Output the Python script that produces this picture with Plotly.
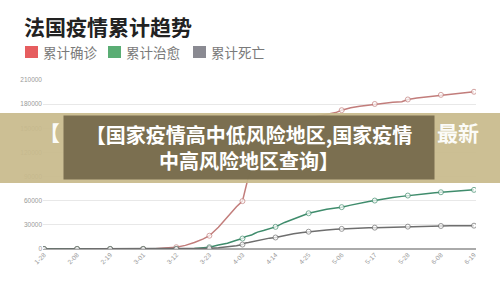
import plotly.graph_objects as go

# ---------------- data ----------------
dates = ["2020-01-28","2020-02-08","2020-02-19","2020-03-01","2020-03-05","2020-03-08",
         "2020-03-12","2020-03-15","2020-03-18","2020-03-21","2020-03-23","2020-03-26",
         "2020-03-29","2020-04-01","2020-04-03","2020-04-04","2020-04-05","2020-04-06",
         "2020-04-07","2020-04-08","2020-04-10","2020-04-12","2020-04-14","2020-04-17",
         "2020-04-20","2020-04-23","2020-04-25","2020-04-28","2020-05-01","2020-05-04",
         "2020-05-06","2020-05-09","2020-05-12","2020-05-15","2020-05-17","2020-05-20",
         "2020-05-23","2020-05-26","2020-05-28","2020-05-31","2020-06-03","2020-06-06",
         "2020-06-08","2020-06-11","2020-06-14","2020-06-17","2020-06-19"]

confirmed = [4, 11, 12, 130, 423, 1126, 2200, 4500, 8000, 12500, 16500, 27000,
             40000, 52500, 59500, 75000, 90000, 98000, 109000, 113000, 124800, 132600,
             143000, 148500, 154700, 158000, 161500, 165000, 167300, 169500, 172500,
             175500, 177500, 179000, 180200, 181500, 182300, 182900, 185800, 187600,
             188900, 190300, 191500, 192600, 193700, 194800, 195400]

recovered = [0, 0, 0, 12, 12, 12, 12, 12, 600, 1500, 2200, 4900,
             7200, 10900, 13000, 15400, 16200, 17300, 19300, 21000, 23000, 25500,
             27500, 33000, 37500, 42000, 44400, 47000, 49500, 51000, 52000,
             54500, 57000, 59000, 60200, 62300, 63900, 65400, 66400, 67700,
             68800, 69800, 70500, 71300, 72200, 73000, 73500]

deaths = [0, 0, 1, 2, 7, 19, 61, 127, 264, 560, 860, 1700,
          2600, 4000, 5500, 7500, 8100, 8900, 10300, 10900, 12200, 13500,
          14300, 17000, 19000, 20500, 21500, 22700, 23700, 24500, 25000,
          25600, 26000, 26300, 26500, 26900, 27300, 27600, 27800, 28100,
          28300, 28500, 28600, 28750, 28850, 28950, 29000]

tick_dates = ["2020-01-28","2020-02-08","2020-02-19","2020-03-01","2020-03-12","2020-03-23",
              "2020-04-03","2020-04-14","2020-04-25","2020-05-06","2020-05-17","2020-05-28",
              "2020-06-08","2020-06-19"]
tick_labels = ["1-28","2-08","2-19","3-01","3-12","3-23","4-03","4-14","4-25","5-06",
               "5-17","5-28","6-08","6-19"]
y_ticks = [0, 30000, 60000, 90000, 120000, 150000, 180000, 210000]

series_names = ["累计确诊", "累计治愈", "累计死亡"]
line_colors = ["#c27d7b", "#3f8c6c", "#6e6e6e"]
legend_colors = ["#e65d5f", "#5aad74", "#8a8a92"]

title_text = "法国疫情累计趋势"
banner_text = "<b>【国家疫情高中低风险地区,国家疫情<br>中高风险地区查询】</b>"
bg_left = "<b>【</b>"
bg_right = "<b>最新</b>"

# ---------------- layout geometry ----------------
W, H = 500, 296
L, R, T, B = 43, 24, 80, 47
PW, PH = W - L - R, H - T - B


def px(x):
    return (x - L) / PW


def py(y):
    return (H - B - y) / PH


marker_sizes = [5 if d in tick_dates else 0 for d in dates]

fig = go.Figure()
for name, vals, col in zip(series_names, [confirmed, recovered, deaths], line_colors):
    fig.add_trace(go.Scatter(
        x=dates, y=vals, name=name, mode="lines+markers",
        line=dict(color=col, width=1.5),
        marker=dict(size=marker_sizes, color="white", line=dict(color=col, width=1)),
        showlegend=False,
    ))

font_cjk = "Noto Sans CJK SC, Noto Sans, sans-serif"

shapes = []
annotations = []

# title
annotations.append(dict(text="<b>" + title_text + "</b>", xref="paper", yref="paper",
                        x=px(22), y=py(26), xanchor="left", yanchor="middle",
                        showarrow=False, font=dict(size=21, color="#222222", family=font_cjk)))

# custom legend
leg_x = [25, 108, 193]
for lx, name, col in zip(leg_x, series_names, legend_colors):
    shapes.append(dict(type="rect", xref="paper", yref="paper",
                       x0=px(lx), x1=px(lx + 13), y0=py(58), y1=py(46),
                       fillcolor=col, line=dict(width=0)))
    annotations.append(dict(text=name, xref="paper", yref="paper",
                            x=px(lx + 16), y=py(52), xanchor="left", yanchor="middle",
                            showarrow=False, font=dict(size=13.5, color="#7a7a7a", family=font_cjk)))

# tan band over the chart
shapes.append(dict(type="rect", xref="paper", yref="paper", layer="above",
                   x0=px(0), x1=px(W), y0=py(183), y1=py(113),
                   fillcolor="rgba(200,186,140,0.93)", line=dict(width=0)))

# background (partially covered) text, visible parts only
annotations.append(dict(text=bg_left, xref="paper", yref="paper",
                        x=px(37), y=py(132), xanchor="left", yanchor="middle",
                        showarrow=False, font=dict(size=21, color="rgba(255,255,255,0.95)", family=font_cjk)))
annotations.append(dict(text=bg_right, xref="paper", yref="paper",
                        x=px(481), y=py(132), xanchor="right", yanchor="middle",
                        showarrow=False, font=dict(size=21, color="rgba(255,255,255,0.95)", family=font_cjk)))

# dark banner box with text
annotations.append(dict(text=banner_text, xref="paper", yref="paper",
                        x=px(249), y=py(147.5), xanchor="center", yanchor="middle",
                        width=370, height=63, borderpad=0, align="center", valign="middle",
                        bgcolor="rgba(118,106,76,0.95)",
                        showarrow=False, font=dict(size=20, color="white", family=font_cjk)))

fig.update_layout(
    width=W, height=H,
    margin=dict(l=L, r=R, t=T, b=B),
    paper_bgcolor="white", plot_bgcolor="white",
    shapes=shapes, annotations=annotations,
    xaxis=dict(type="date", range=["2020-01-27 16:00", "2020-06-19 16:00"],
               tickvals=tick_dates, ticktext=tick_labels, tickangle=-45,
               showgrid=False, zeroline=False, showline=False, ticks="",
               tickfont=dict(size=6.5, color="#999999", family="Arial")),
    yaxis=dict(range=[0, 210000], tickvals=y_ticks, ticktext=[str(v) for v in y_ticks],
               showgrid=True, gridcolor="#e8e8e8", gridwidth=1,
               zeroline=True, zerolinecolor="#aaaaaa", zerolinewidth=1.5,
               showline=False, ticks="",
               tickfont=dict(size=6.5, color="#999999", family="Arial")),
)

fig.write_html("out.html")
